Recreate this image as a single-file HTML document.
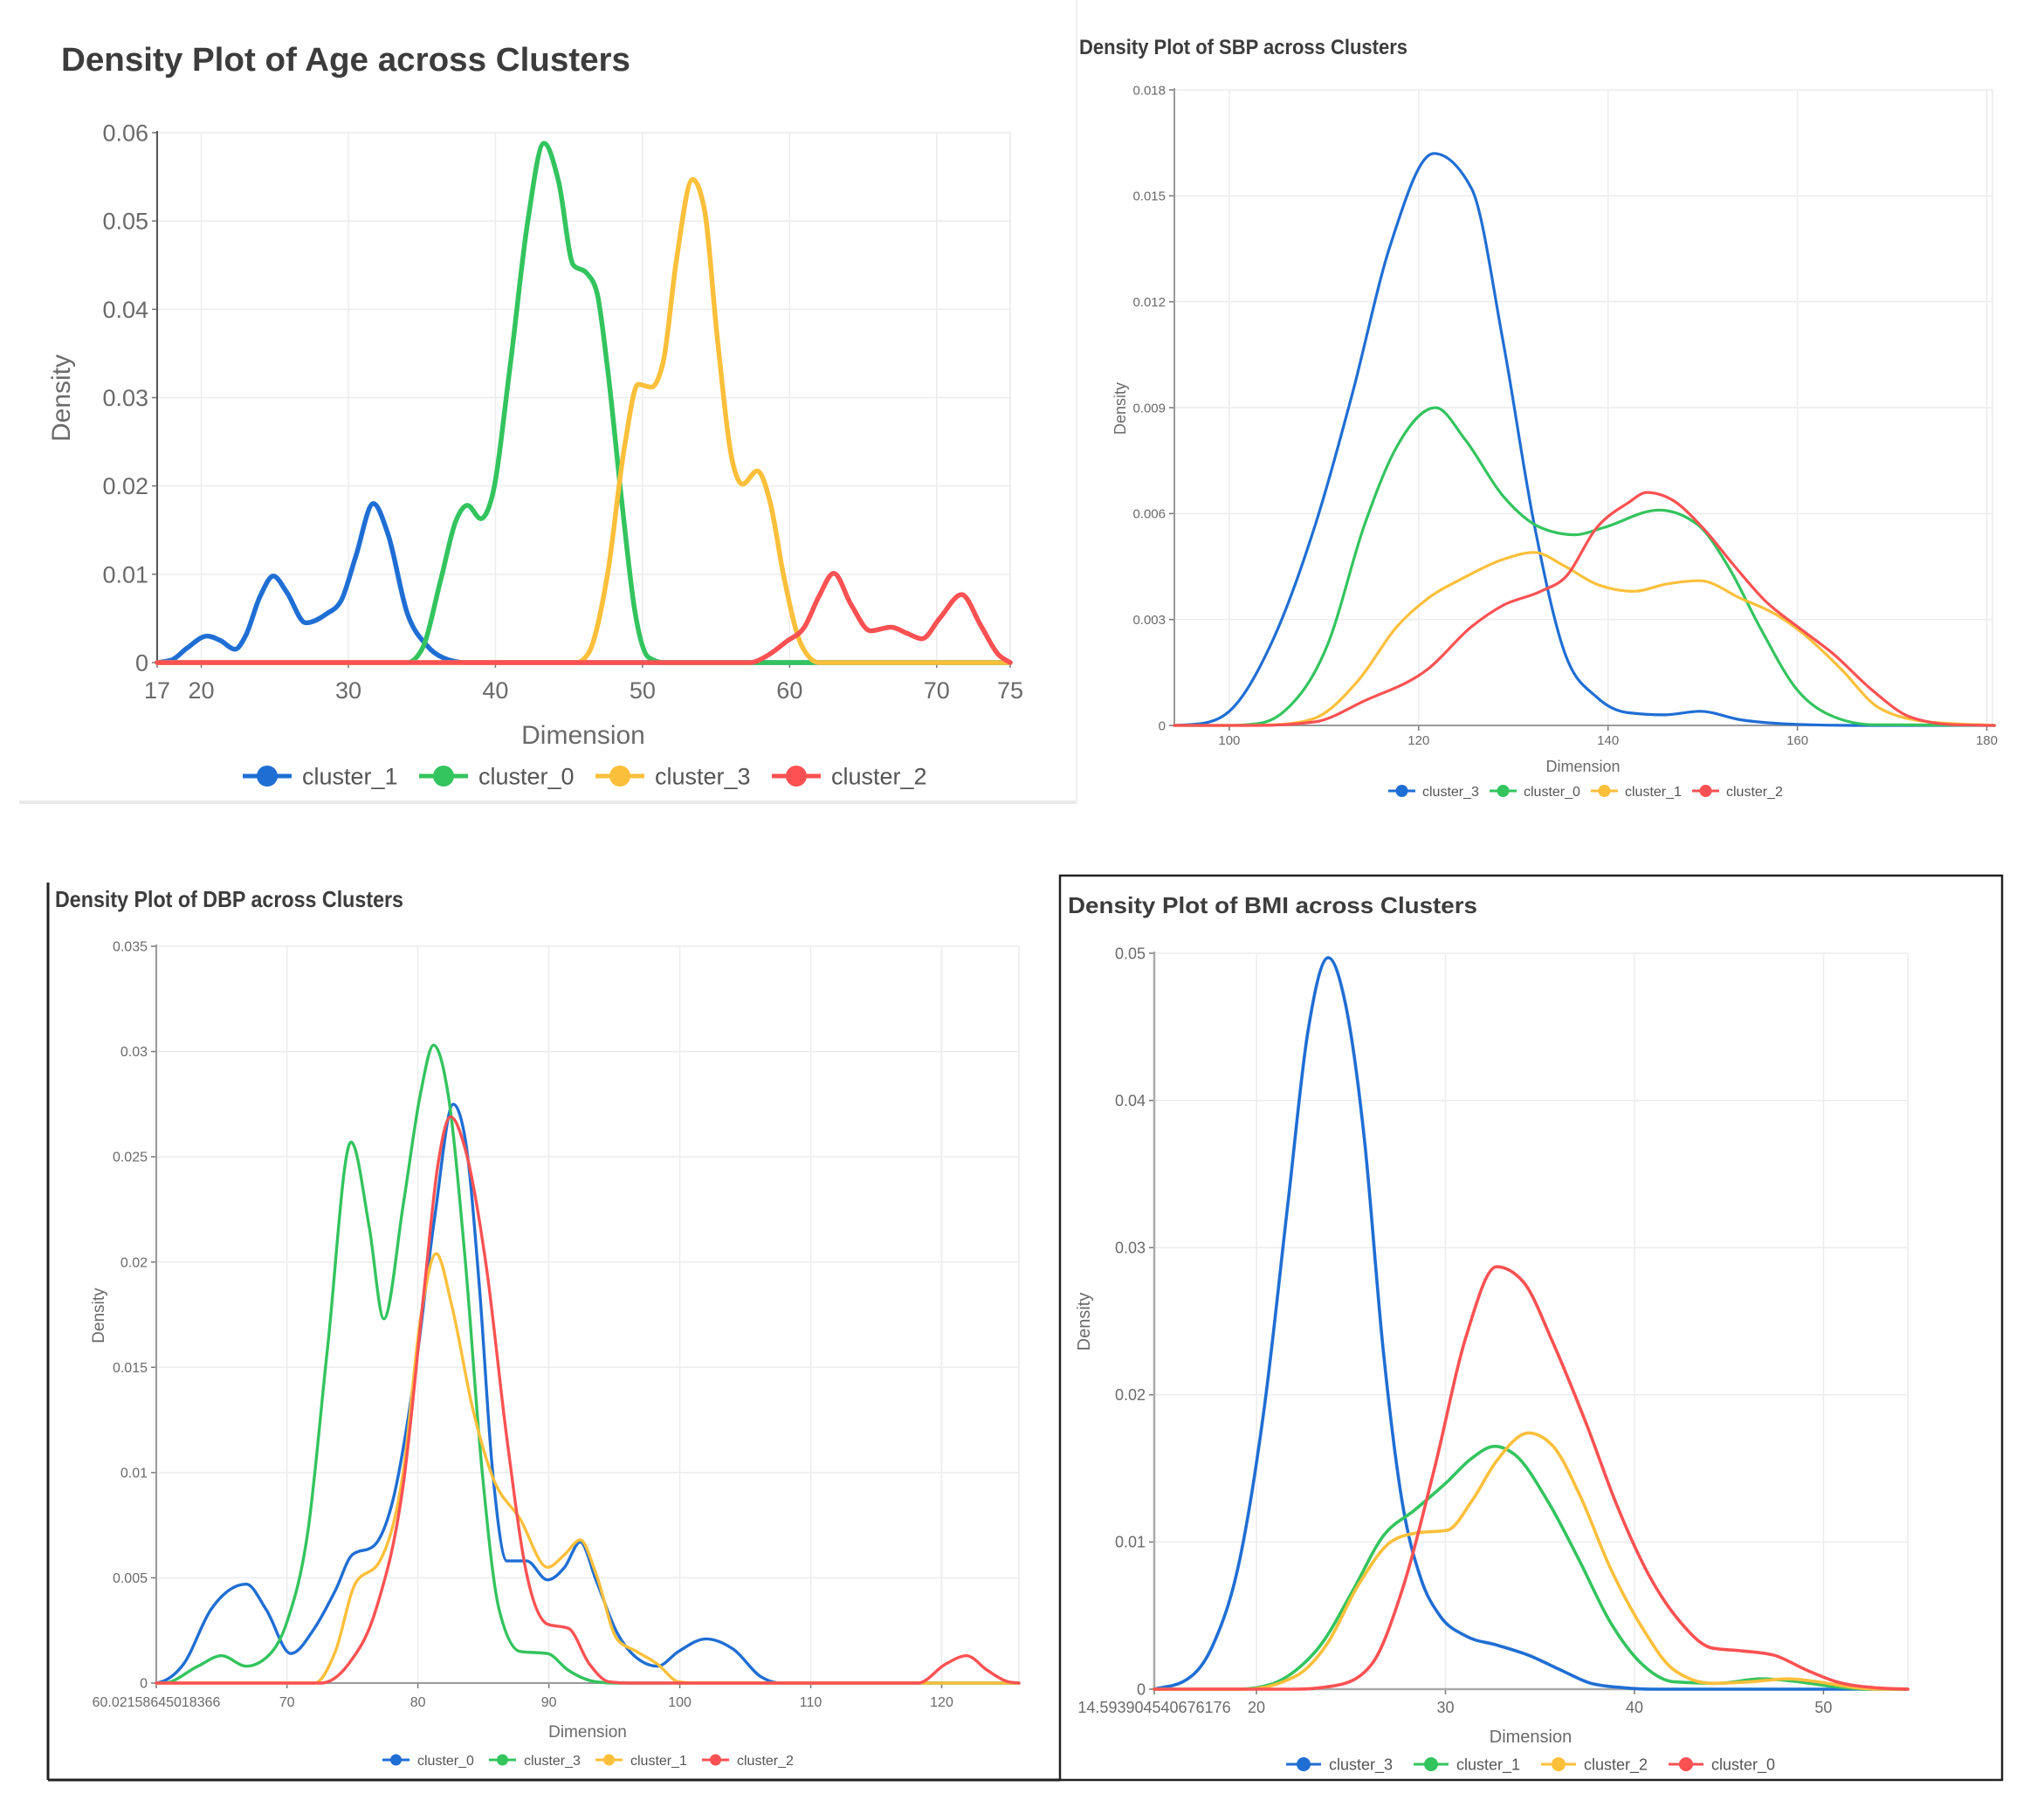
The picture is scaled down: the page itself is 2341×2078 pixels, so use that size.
<!DOCTYPE html>
<html><head><meta charset="utf-8"><style>
html,body{margin:0;padding:0;background:#fff;}
svg{display:block;font-family:"Liberation Sans Narrow","Liberation Sans",sans-serif;}
</style></head><body>
<svg id="root" width="2341" height="2078" viewBox="0 0 2341 2078" xmlns="http://www.w3.org/2000/svg">
<rect width="2341" height="2078" fill="#fff"/>
<line x1="22" y1="919" x2="1232" y2="919" stroke="#eaeaea" stroke-width="4"/>
<line x1="1233" y1="0" x2="1233" y2="921" stroke="#f0f0f0" stroke-width="2"/>
<line x1="55" y1="1011" x2="55" y2="2039" stroke="#222" stroke-width="3"/>
<line x1="55" y1="2039" x2="1214" y2="2039" stroke="#222" stroke-width="3"/>
<rect x="1214" y="1003" width="1079" height="1036" fill="none" stroke="#222" stroke-width="2.5"/>
</svg>
<script>
// ---------- AGE ----------
const ageXTicks=[17,20,30,40,50,60,70,75];
const ageYTicks=[0,0.01,0.02,0.03,0.04,0.05,0.06];
const ageNames=["cluster_1","cluster_0","cluster_3","cluster_2"];
const ageCluster1=[[17,0],[18,0.0003],[19,0.0016],[20.4,0.003],[21.3,0.0025],[22.3,0.0015],[23,0.003],[24,0.0075],[24.9,0.0098],[25.8,0.008],[27.1,0.0045],[28.5,0.0055],[29.5,0.007],[30.5,0.012],[31.7,0.018],[32.7,0.0145],[34,0.0056],[35.3,0.002],[36.5,0.0005],[38,0],[75,0]];
const ageCluster0=[[17,0],[34,0],[35,0.0015],[36.3,0.0095],[37.3,0.016],[38.1,0.0178],[39,0.0163],[39.8,0.019],[41,0.0336],[42.2,0.05],[43.3,0.0588],[44.3,0.0544],[45.3,0.045],[46.2,0.0441],[46.9,0.0419],[47.6,0.0336],[48.6,0.0181],[49.5,0.0056],[50.4,0.0006],[51.5,0],[75,0]];
const ageCluster3=[[17,0],[45.5,0],[46.3,0.001],[47.6,0.0098],[48.8,0.0247],[49.7,0.0315],[50.6,0.0312],[51.4,0.034],[52.3,0.0455],[53.4,0.0547],[54.2,0.0514],[55.1,0.0365],[56.1,0.0229],[56.8,0.0202],[57.8,0.0217],[58.7,0.018],[59.6,0.0098],[60.8,0.002],[62,0],[75,0]];
const ageCluster2=[[17,0],[57.3,0],[58.5,0.0008],[59.8,0.0024],[61,0.004],[62,0.0075],[63,0.0101],[64.2,0.0065],[65.5,0.0036],[66.9,0.004],[68,0.0033],[69,0.0027],[70.2,0.005],[71.7,0.0077],[73,0.0042],[74.2,0.0009],[75,0]];
// ---------- SBP ----------
const sbpXTicks=[100,120,140,160,180];
const sbpYTicks=[0,0.003,0.006,0.009,0.012,0.015,0.018];
const sbpNames=["cluster_3","cluster_0","cluster_1","cluster_2"];
const sbpCluster3=[[94.2,0],[97,0.00005],[100,0.0004],[104.4,0.0023],[109.1,0.0057],[113,0.0094],[117,0.0136],[121.6,0.0162],[125.6,0.0152],[128.9,0.0109],[132.2,0.0057],[135.5,0.002],[138.8,0.0008],[142.1,0.00036],[146,0.0003],[149.7,0.0004],[154,0.00016],[160,0.00003],[166,0],[180.8,0]];
const sbpCluster0=[[94.2,0],[100,0],[103,0.00005],[105.8,0.0004],[110.4,0.0023],[114.3,0.0057],[117.7,0.0079],[121.8,0.009],[124.9,0.0081],[128.9,0.0065],[132.9,0.0056],[136.5,0.0054],[139.5,0.0056],[145.4,0.0061],[149.4,0.0057],[152.7,0.0045],[156,0.0028],[160,0.001],[163.9,0.00024],[168,0.00002],[180.8,0]];
const sbpCluster1=[[94.2,0],[102,0],[105.5,0.00003],[109,0.0002],[113.7,0.0013],[117.7,0.0028],[121,0.0036],[124.9,0.0042],[128.9,0.0047],[132.2,0.0049],[135.5,0.0045],[138.8,0.004],[142.8,0.0038],[146.1,0.004],[149.7,0.0041],[154,0.0036],[158,0.0031],[160.6,0.0026],[164.6,0.0016],[168.6,0.0005],[173.9,0.0001],[180.8,0]];
const sbpCluster2=[[94.2,0],[103,0],[109,0.0001],[114.3,0.0007],[121,0.0016],[125.6,0.0028],[128.9,0.0034],[132.9,0.0038],[135.5,0.0042],[138.8,0.0056],[142.1,0.0063],[144.1,0.0066],[146.7,0.0064],[150,0.0056],[153.4,0.0045],[156.7,0.0035],[160,0.0028],[163.9,0.002],[167.9,0.001],[171.9,0.00024],[176.5,0.00002],[180.8,0]];
// ---------- DBP ----------
const dbpXTicks=[60.02158645018366,70,80,90,100,110,120];
const dbpXLabels=["60.02158645018366","70","80","90","100","110","120"];
const dbpYTicks=[0,0.005,0.01,0.015,0.02,0.025,0.03,0.035];
const dbpNames=["cluster_0","cluster_3","cluster_1","cluster_2"];
const dbpCluster0=[[60.02,0],[60.6,0.0001],[62.1,0.0009],[64.2,0.0035],[66.9,0.0047],[68.4,0.0035],[70.3,0.0014],[72.1,0.0026],[73.7,0.0044],[75,0.0061],[76.6,0.0065],[78.1,0.0087],[79.7,0.0144],[81.3,0.0222],[82.7,0.0275],[83.6,0.0259],[84.7,0.0188],[85.7,0.0101],[86.8,0.0058],[88.3,0.0058],[89.9,0.0049],[91.2,0.0055],[92.4,0.0067],[93.6,0.0049],[95.2,0.0024],[96.7,0.0012],[98.3,0.0008],[99.9,0.0015],[102,0.0021],[104.1,0.0016],[106.2,0.0003],[107.7,0],[125.9,0]];
const dbpCluster3=[[60.02,0],[60.6,0],[63.2,0.0008],[65,0.0013],[66.9,0.0008],[68.4,0.0012],[70,0.0029],[71.6,0.0072],[73.1,0.0159],[74.9,0.0257],[76.3,0.0216],[77.4,0.0173],[78.9,0.0228],[80.2,0.028],[81.2,0.0303],[82.3,0.028],[83.6,0.0202],[84.9,0.0101],[86.2,0.0035],[87.8,0.0015],[89.9,0.0014],[91.5,0.0006],[93.6,0.00006],[95,0],[125.9,0]];
const dbpCluster1=[[60.02,0],[72.1,0],[73.7,0.0015],[75.2,0.0047],[77.1,0.0058],[78.9,0.0101],[80.2,0.0173],[81.4,0.0204],[82.6,0.0179],[84.2,0.013],[85.7,0.0098],[87.8,0.0078],[89.9,0.0055],[91.2,0.0061],[92.4,0.0068],[93.6,0.0052],[95.2,0.0021],[96.7,0.0015],[98.3,0.0009],[99.9,0.00006],[101,0],[125.9,0]];
const dbpCluster2=[[60.02,0],[72.6,0],[74.7,0.0009],[76.8,0.0035],[78.9,0.0095],[80.5,0.0188],[81.5,0.0245],[82.5,0.0269],[83.6,0.0254],[85.2,0.0199],[86.8,0.0116],[88.3,0.0052],[89.9,0.0028],[91.5,0.0026],[93.1,0.0009],[94.6,0.00006],[96,0],[118.2,0],[120.3,0.0009],[121.9,0.0013],[123.5,0.0006],[125.1,0.00006],[125.9,0]];
// ---------- BMI ----------
const bmiXTicks=[14.593904540676176,20,30,40,50];
const bmiXLabels=["14.593904540676176","20","30","40","50"];
const bmiYTicks=[0,0.01,0.02,0.03,0.04,0.05];
const bmiNames=["cluster_3","cluster_1","cluster_2","cluster_0"];
const bmiCluster3=[[14.59,0],[16.1,0.0005],[17.7,0.003],[19.1,0.0087],[20.4,0.019],[21.7,0.0334],[22.7,0.0445],[23.8,0.0497],[24.7,0.0466],[25.7,0.0375],[26.7,0.0231],[27.7,0.0128],[28.7,0.0075],[29.7,0.005],[31.1,0.0036],[32.7,0.003],[34.4,0.0023],[36.1,0.0013],[37.7,0.0004],[39.4,0.0001],[41,0],[54.46,0]];
const bmiCluster1=[[14.59,0],[19.1,0],[20.7,0.0003],[22.1,0.0013],[23.4,0.003],[25.1,0.0067],[26.7,0.0104],[28.4,0.0122],[30.1,0.0141],[31.4,0.0157],[32.6,0.0165],[33.7,0.0159],[35.4,0.0128],[37.1,0.0087],[38.7,0.0046],[40.4,0.0017],[42.1,0.0005],[44.4,0.0004],[46.7,0.0007],[48.7,0.0005],[50.4,0.0002],[52.4,0],[54.46,0]];
const bmiCluster2=[[14.59,0],[19.4,0],[22.1,0.0009],[23.7,0.003],[25.4,0.0071],[27.1,0.01],[28.4,0.0106],[30.1,0.0108],[31.4,0.0128],[32.7,0.0155],[34.4,0.0174],[35.7,0.0165],[37.1,0.0132],[38.7,0.0083],[40.4,0.0042],[42.1,0.0013],[44.1,0.0004],[46.1,0.0005],[48.1,0.0007],[49.7,0.0005],[51.7,0.0001],[53,0],[54.46,0]];
const bmiCluster0=[[14.59,0],[22.1,0],[24.4,0.0003],[26.1,0.0017],[27.7,0.0067],[29.4,0.0149],[31.1,0.024],[32.7,0.0287],[34.1,0.0277],[35.7,0.0235],[37.4,0.0182],[39.1,0.0124],[40.7,0.0079],[42.4,0.0046],[44.1,0.0028],[45.7,0.0026],[47.4,0.0023],[49.1,0.0013],[50.7,0.0005],[52.7,0.0001],[54.46,0]];

const COLORS=["#1f6ed4","#33c45e","#fbbf3a","#fb5152"];
const NS="http://www.w3.org/2000/svg";
const root=document.getElementById("root");
function mk(tag,attrs,parent,text){const e=document.createElementNS(NS,tag);for(const k in attrs)e.setAttribute(k,attrs[k]);if(text!==undefined)e.textContent=text;(parent||root).appendChild(e);return e;}
// monotone cubic (like d3.curveMonotoneX)
function smoothPath(p){
  const n=p.length;
  const s=[],m=[];
  for(let i=0;i<n-1;i++)s.push((p[i+1][1]-p[i][1])/(p[i+1][0]-p[i][0]));
  for(let i=0;i<n;i++){
    if(i===0)m.push(s[0]);else if(i===n-1)m.push(s[n-2]);
    else{
      if(s[i-1]*s[i]<=0)m.push(0);
      else{const h0=p[i][0]-p[i-1][0],h1=p[i+1][0]-p[i][0];
        const t=(s[i-1]*h1+s[i]*h0)/(h0+h1);
        m.push(Math.sign(s[i-1])*Math.min(Math.abs(t),2*Math.abs(s[i-1]),2*Math.abs(s[i])));}
    }
  }
  let d="M"+p[0][0].toFixed(1)+","+p[0][1].toFixed(1);
  for(let i=0;i<n-1;i++){
    const h=(p[i+1][0]-p[i][0])/3;
    d+=" C"+(p[i][0]+h).toFixed(1)+","+(p[i][1]+m[i]*h).toFixed(1)+" "+(p[i+1][0]-h).toFixed(1)+","+(p[i+1][1]-m[i+1]*h).toFixed(1)+" "+p[i+1][0].toFixed(1)+","+p[i+1][1].toFixed(1);
  }
  return d;
}
function drawChart(c){
  const g=mk("g",{});
  
  
  const sx=v=>c.x0+(v-c.xmin)/(c.xmax-c.xmin)*(c.x1-c.x0);
  const sy=v=>c.yb-v/c.ymax*(c.yb-c.yt);
  const t=mk("text",{x:c.titleX,y:c.titleY,"font-size":c.titleSize,"font-weight":"bold",fill:"#3c3c3c",textLength:c.titleLen,lengthAdjust:"spacingAndGlyphs","font-family":c.titleFont},g,c.title);
  
  
  c.xTicks.forEach(v=>{const l=mk("line",{x1:sx(v),x2:sx(v),y1:c.yt,y2:c.yb,stroke:"#ececec","stroke-width":1.5},g);
    
    });
  const rl=mk("line",{x1:c.x1,x2:c.x1,y1:c.yt,y2:c.yb,stroke:"#ececec","stroke-width":1.5},g);
  
  
  c.yTicks.forEach((v,i)=>{
    const l=mk("line",{x1:c.x0,x2:c.x1,y1:sy(v),y2:sy(v),stroke:"#ececec","stroke-width":1.5},g);
    
    
    const tk=mk("line",{x1:c.x0-6,x2:c.x0,y1:sy(v),y2:sy(v),stroke:"#777","stroke-width":1.5},g);
    
    
    const lb=mk("text",{x:c.x0-10,y:sy(v)+c.tickSize*0.35,"text-anchor":"end","font-size":c.tickSize,fill:"#6a6a6a"},g,c.yLabels?c.yLabels[i]:String(v));
    
    
  });
  c.xTicks.forEach((v,i)=>{
    const tk=mk("line",{x1:sx(v),x2:sx(v),y1:c.yb,y2:c.yb+6,stroke:"#777","stroke-width":1.5},g);
    
    
    const lb=mk("text",{x:sx(v),y:c.xLabelY,"text-anchor":"middle","font-size":c.tickSize,fill:"#6a6a6a"},g,c.xLabels?c.xLabels[i]:String(v));
    
    
  });
  const ya=mk("line",{x1:c.x0,x2:c.x0,y1:c.yt-2,y2:c.yb,stroke:c.axisColor,"stroke-width":c.axisW},g);
  
  
  const xa=mk("line",{x1:c.x0,x2:c.x1,y1:c.yb,y2:c.yb,stroke:c.axisColor,"stroke-width":c.axisW},g);
  
  
  const xt=mk("text",{x:c.dimX,y:c.dimY,"text-anchor":"middle","font-size":c.axisTitleSize,fill:"#6a6a6a"},g,"Dimension");
  
  
  const yt=mk("text",{x:c.denX,y:c.denY,"text-anchor":"middle","font-size":c.axisTitleSize,fill:"#6a6a6a",transform:"rotate(-90 "+c.denX+" "+c.denY+")"},g,"Density");
  
  
  c.series.forEach((s,i)=>{
    const pts=s.map(p=>[sx(p[0]),sy(p[1])]);
    const p=mk("path",{d:smoothPath(pts),fill:"none",stroke:COLORS[i],"stroke-width":c.lineW,"stroke-linejoin":"round","stroke-linecap":"round"},g);
    
    
  });
  c.names.forEach((n,i)=>{
    const lx=c.legX+i*c.legStep;
    const lg=mk("g",{},g);
    
    
    mk("line",{x1:lx,x2:lx+c.legLen,y1:c.legY,y2:c.legY,stroke:COLORS[i],"stroke-width":c.legLW},lg);
    mk("circle",{cx:lx+c.legLen/2,cy:c.legY,r:c.legR,fill:COLORS[i]},lg);
    mk("text",{x:lx+c.legText,y:c.legY+c.legSize*0.36,"font-size":c.legSize,fill:"#555"},lg,n);
  });
}
drawChart({key:"age",title:"Density Plot of Age across Clusters",titleX:70,titleY:81,titleSize:38,titleLen:652,titleFont:"Liberation Sans Narrow, Liberation Sans, sans-serif",
  x0:180,x1:1157,yt:152,yb:759,xmin:17,xmax:75,ymax:0.06,xTicks:ageXTicks,yTicks:ageYTicks,
  tickSize:27,xLabelY:800,axisColor:"#555",axisW:2,lineW:5.5,axisTitleSize:30,dimX:668,dimY:852,denX:80,denY:456,
  series:[ageCluster1,ageCluster0,ageCluster3,ageCluster2],names:ageNames,
  legX:278,legStep:202,legLen:56,legR:12,legLW:5,legText:68,legY:889,legSize:27});
drawChart({key:"sbp",title:"Density Plot of SBP across Clusters",titleX:1236,titleY:62,titleSize:24,titleLen:376,titleFont:"Liberation Sans Narrow, Liberation Sans, sans-serif",
  x0:1345,x1:2282,yt:103,yb:831,xmin:94.2,xmax:180.6,ymax:0.018,xTicks:sbpXTicks,yTicks:sbpYTicks,yLabels:["0","0.003","0.006","0.009","0.012","0.015","0.018"],
  tickSize:15,xLabelY:853,axisColor:"#999",axisW:2,lineW:3.2,axisTitleSize:18,dimX:1813,dimY:884,denX:1289,denY:468,
  series:[sbpCluster3,sbpCluster0,sbpCluster1,sbpCluster2],names:sbpNames,
  legX:1590,legStep:116,legLen:31,legR:7,legLW:3,legText:39,legY:906,legSize:16});
drawChart({key:"dbp",title:"Density Plot of DBP across Clusters",titleX:63,titleY:1039,titleSize:26,titleLen:399,titleFont:"Liberation Sans Narrow, Liberation Sans, sans-serif",
  x0:179,x1:1167,yt:1084,yb:1928,xmin:60.02158645018366,xmax:125.9,ymax:0.035,xTicks:dbpXTicks,xLabels:dbpXLabels,yTicks:dbpYTicks,
  tickSize:16,xLabelY:1955,axisColor:"#999",axisW:2,lineW:3.4,axisTitleSize:19,dimX:673,dimY:1990,denX:119,denY:1507,
  series:[dbpCluster0,dbpCluster3,dbpCluster1,dbpCluster2],names:dbpNames,
  legX:438,legStep:122,legLen:31,legR:6.5,legLW:3,legText:40,legY:2016,legSize:16});
drawChart({key:"bmi",title:"Density Plot of BMI across Clusters",titleX:1223,titleY:1046,titleSize:26,titleLen:469,titleFont:"Liberation Sans, sans-serif",
  x0:1322,x1:2185,yt:1092,yb:1935,xmin:14.593904540676176,xmax:54.46,ymax:0.05,xTicks:bmiXTicks,xLabels:bmiXLabels,yTicks:bmiYTicks,
  tickSize:18,xLabelY:1962,axisColor:"#aaa",axisW:2.5,lineW:3.6,axisTitleSize:20,dimX:1753,dimY:1996,denX:1248,denY:1514,
  series:[bmiCluster3,bmiCluster1,bmiCluster2,bmiCluster0],names:bmiNames,
  legX:1473,legStep:146,legLen:40,legR:8,legLW:3,legText:49,legY:2021,legSize:18});
</script>
</body></html>
